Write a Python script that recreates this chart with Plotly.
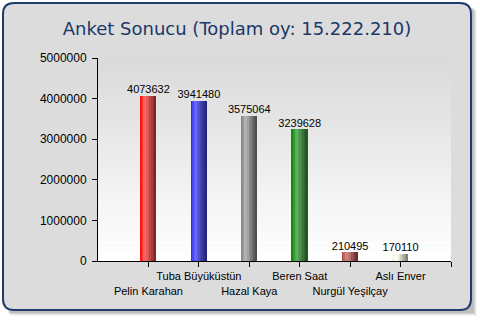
import plotly.graph_objects as go

names = ["Pelin Karahan", "Tuba Büyüküstün", "Hazal Kaya", "Beren Saat", "Nurgül Yeşilçay", "Aslı Enver"]
votes = [4073632, 3941480, 3575064, 3239628, 210495, 170110]
title_text = "Anket Sonucu (Toplam oy: 15.222.210)"
y_ticks = [0, 1000000, 2000000, 3000000, 4000000, 5000000]

# cylinder shading: (edge, highlight, dark)
palettes = [
    ((255, 0, 0), (255, 110, 110), (120, 30, 30)),
    ((30, 30, 255), (110, 110, 255), (30, 30, 110)),
    ((130, 130, 130), (185, 185, 185), (70, 70, 70)),
    ((0, 130, 0), (100, 180, 100), (30, 80, 30)),
    ((170, 60, 60), (215, 140, 140), (100, 35, 35)),
    ((245, 245, 225), (255, 255, 245), (120, 120, 105)),
]

W, H = 480, 320
L, R, T, B = 98, 29, 58, 59
PW, PH = W - L - R, H - T - B

def px(x):
    return (x - L) / PW

def py(y):
    return (H - B - y) / PH

def lerp(a, b, t):
    return tuple(round(a[i] + (b[i] - a[i]) * t) for i in range(3))

def shade(p, t):
    edge, hi, dark = p
    if t < 0.3:
        return lerp(edge, hi, t / 0.3)
    return lerp(hi, dark, (t - 0.3) / 0.7)

fig = go.Figure()
n = 10
bw = 0.31
xs = list(range(len(names)))
for i in range(n):
    t = (i + 0.5) / n
    cols = ["rgb(%d,%d,%d)" % shade(p, t) for p in palettes]
    fig.add_trace(go.Bar(
        x=xs, y=votes, width=bw / n + 0.002, offset=-bw / 2 + i * bw / n,
        marker=dict(color=cols, line=dict(width=0)),
        hoverinfo="skip", showlegend=False,
    ))

# value labels
fig.add_trace(go.Scatter(
    x=xs, y=votes, mode="text", text=[str(v) for v in votes],
    textposition="top center",
    textfont=dict(family="Liberation Sans", size=11, color="#000000"),
    showlegend=False, hoverinfo="skip",
))

shapes = []
# shadow
for k, a in enumerate([0.10, 0.08, 0.06, 0.04]):
    o = k + 2
    shapes.append(dict(type="rect", xref="paper", yref="paper",
                       x0=px(6 + o), x1=px(472 + o), y0=py(311 + o), y1=py(6 + o),
                       fillcolor="rgba(0,0,0,%.2f)" % a, line=dict(width=0), layer="below"))

# rounded panel
r = 11
x0, x1, y0, y1 = 3, 471, 3, 310
def P(x, y):
    return "%f,%f" % (px(x), py(y))
path = ("M " + P(x0 + r, y0) + " L " + P(x1 - r, y0) + " Q " + P(x1, y0) + " " + P(x1, y0 + r) +
        " L " + P(x1, y1 - r) + " Q " + P(x1, y1) + " " + P(x1 - r, y1) +
        " L " + P(x0 + r, y1) + " Q " + P(x0, y1) + " " + P(x0, y1 - r) +
        " L " + P(x0, y0 + r) + " Q " + P(x0, y0) + " " + P(x0 + r, y0) + " Z")
shapes.append(dict(type="path", xref="paper", yref="paper", path=path,
                   fillcolor="#dcdcdc", line=dict(color="#1e3c6e", width=2), layer="below"))

# plot area gradient
m = 40
for k in range(m):
    t = k / (m - 1)
    c = lerp((255, 255, 255), (218, 218, 218), t)
    shapes.append(dict(type="rect", xref="paper", yref="paper",
                       x0=0, x1=1, y0=k / m, y1=(k + 1) / m + 0.002,
                       fillcolor="rgb(%d,%d,%d)" % c, line=dict(width=0), layer="below"))

ticktext = [("<br>" + nm) if i % 2 == 0 else (nm + "<br> ") for i, nm in enumerate(names)]

fig.update_layout(
    width=W, height=H,
    margin=dict(l=L, r=R, t=T, b=B, autoexpand=False),
    paper_bgcolor="#ffffff", plot_bgcolor="rgba(0,0,0,0)",
    barmode="overlay", bargap=0,
    shapes=shapes,
    title=dict(text=title_text, x=237 / W, xref="container", y=1 - 29 / H, yref="container",
               yanchor="middle", xanchor="center",
               font=dict(family="DejaVu Sans", size=18, color="#1a3868")),
    xaxis=dict(range=[-1, 6], tickmode="array", tickvals=xs + [6], ticktext=ticktext + [""],
               tickangle=0, automargin=False,
               showgrid=False, zeroline=False, showline=True, linecolor="#000000", linewidth=1,
               ticks="outside", ticklen=5, tickcolor="#000000",
               tickfont=dict(family="Liberation Sans", size=11, color="#000000")),
    yaxis=dict(range=[0, 5000000], tickmode="array", tickvals=y_ticks,
               ticktext=[str(v) for v in y_ticks], automargin=False,
               showgrid=False, zeroline=False, showline=True, linecolor="#000000", linewidth=1,
               ticks="outside", ticklen=5, tickcolor="#000000", ticklabelstandoff=3,
               tickfont=dict(family="Liberation Sans", size=12, color="#000000")),
)

fig.write_html("out.html")
